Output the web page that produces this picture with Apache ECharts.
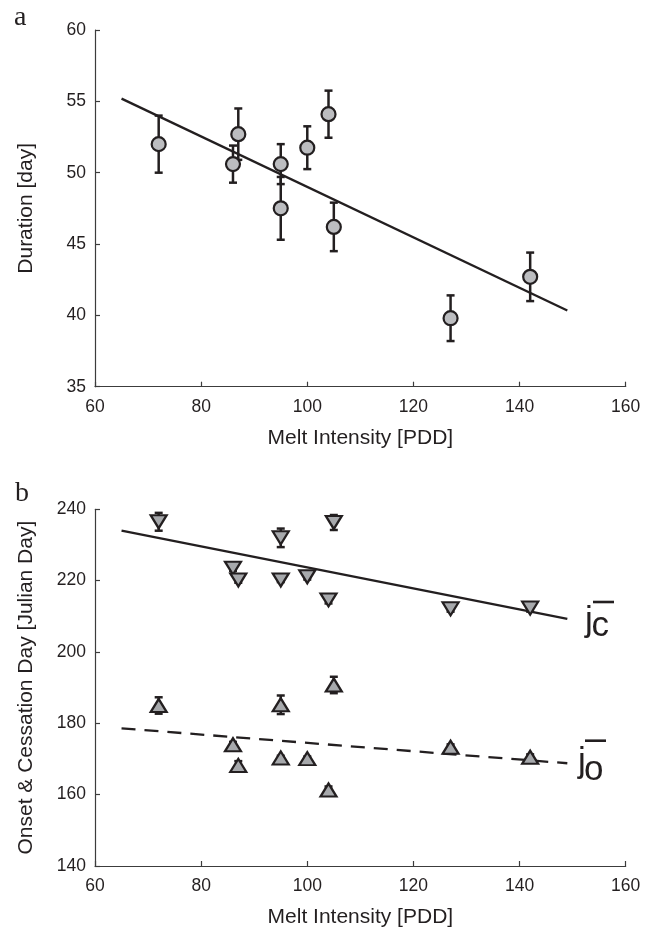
<!DOCTYPE html>
<html>
<head>
<meta charset="utf-8">
<script src="https://cdn.jsdelivr.net/npm/echarts@6/dist/echarts.min.js"></script>
<style>
html,body{margin:0;padding:0;background:#fff;}
#chart{width:657px;height:934px;}
</style>
</head>
<body>
<div id="chart"></div>
<script>
// ---- data ----
var meltIntensity = [72, 86, 87, 95, 95, 100, 104, 105, 127, 142];
var duration      = [52.0, 50.6, 52.7, 50.6, 47.5, 51.75, 54.1, 46.2, 39.8, 42.7];
var durationErr   = [2.0, 1.3, 1.8, 1.4, 2.2, 1.5, 1.65, 1.7, 1.6, 1.7];
var cessation     = [236.5, 223.5, 220.2, 220.2, 232.0, 221.1, 214.6, 236.3, 212.1, 212.3];
var cessationErr  = [2.5, 0.8, 0.8, 0.6, 2.6, 0.8, 1.0, 2.1, 0.8, 1.0];
var onset         = [185.0, 174.0, 168.2, 170.3, 185.2, 170.1, 161.3, 190.75, 173.3, 170.5];
var onsetErr      = [2.3, 0.8, 1.2, 0.6, 2.6, 0.6, 1.0, 2.3, 0.8, 0.8];

var fitX          = [65, 149];
var fitDuration   = [55.19, 40.34];
var fitCessation  = [234.0, 209.25];
var fitOnset      = [178.6, 168.8];

var xTicks = {min: 60, max: 160, interval: 20};
var yTicksA = {min: 35, max: 60, interval: 5};
var yTicksB = {min: 140, max: 240, interval: 20};

// ---- helpers ----
function pairs(xs, ys) { return xs.map(function (x, i) { return [x, ys[i]]; }); }
function errData(xs, ys, es) { return xs.map(function (x, i) { return [x, ys[i] - es[i], ys[i] + es[i]]; }); }

var INK = '#231f20';
var AXIS = '#3c3c3c';
var FONT = 'Liberation Sans, Arial, Helvetica, sans-serif';

function errRender(params, api) {
  var x = api.value(0), lo = api.value(1), hi = api.value(2);
  var p1 = api.coord([x, hi]), p2 = api.coord([x, lo]);
  var c = 4;
  var st = {stroke: INK, lineWidth: 2.5};
  return {type: 'group', children: [
    {type: 'line', shape: {x1: p1[0], y1: p1[1], x2: p2[0], y2: p2[1]}, style: st},
    {type: 'line', shape: {x1: p1[0] - c, y1: p1[1], x2: p1[0] + c, y2: p1[1]}, style: st},
    {type: 'line', shape: {x1: p2[0] - c, y1: p2[1], x2: p2[0] + c, y2: p2[1]}, style: st}
  ]};
}

function xAxis(idx) {
  return {
    type: 'value', gridIndex: idx, min: xTicks.min, max: xTicks.max, interval: xTicks.interval,
    name: 'Melt Intensity [PDD]', nameLocation: 'middle', nameGap: 41,
    nameTextStyle: {fontFamily: FONT, fontSize: 21, color: INK},
    axisLine: {show: true, onZero: false, lineStyle: {color: AXIS, width: 1.2}},
    axisTick: {show: true, inside: true, length: 5, lineStyle: {color: AXIS, width: 1.2}},
    axisLabel: {fontFamily: FONT, fontSize: 17.5, color: INK, margin: 11},
    splitLine: {show: false}
  };
}
function yAxis(idx, t, name) {
  return {
    type: 'value', gridIndex: idx, min: t.min, max: t.max, interval: t.interval,
    name: name, nameLocation: 'middle', nameGap: 58, nameRotate: 90,
    nameTextStyle: {fontFamily: FONT, fontSize: 21, color: INK},
    axisLine: {show: true, onZero: false, lineStyle: {color: AXIS, width: 1.2}},
    axisTick: {show: true, inside: true, length: 5, lineStyle: {color: AXIS, width: 1.2}},
    axisLabel: {fontFamily: FONT, fontSize: 17.5, color: INK, margin: 9},
    splitLine: {show: false}
  };
}

var chart = echarts.init(document.getElementById('chart'), null, {renderer: 'canvas'});
var option = {
  animation: false,
  backgroundColor: '#ffffff',
  grid: [
    {left: 95, top: 30, width: 530.7, height: 356.7, containLabel: false, outerBoundsMode: 'none'},
    {left: 95, top: 509.3, width: 530.7, height: 356.7, containLabel: false, outerBoundsMode: 'none'}
  ],
  xAxis: [xAxis(0), xAxis(1)],
  yAxis: [yAxis(0, yTicksA, 'Duration [day]'), yAxis(1, yTicksB, 'Onset & Cessation Day [Julian Day]')],
  series: [
    {type: 'line', xAxisIndex: 0, yAxisIndex: 0, data: pairs(fitX, fitDuration), symbol: 'none',
     lineStyle: {color: INK, width: 2.3}, z: 2},
    {type: 'custom', xAxisIndex: 0, yAxisIndex: 0, renderItem: errRender,
     encode: {x: 0, y: [1, 2]}, data: errData(meltIntensity, duration, durationErr), z: 3},
    {type: 'scatter', xAxisIndex: 0, yAxisIndex: 0, data: pairs(meltIntensity, duration),
     symbol: 'circle', symbolSize: 14,
     itemStyle: {color: '#bcbdc0', borderColor: INK, borderWidth: 2.2, opacity: 1}, z: 4},

    {type: 'line', xAxisIndex: 1, yAxisIndex: 1, data: pairs(fitX, fitCessation), symbol: 'none',
     lineStyle: {color: INK, width: 2.3}, z: 2},
    {type: 'line', xAxisIndex: 1, yAxisIndex: 1, data: pairs(fitX, fitOnset), symbol: 'none',
     lineStyle: {color: INK, width: 2.3, type: [14, 9]}, z: 2},
    {type: 'custom', xAxisIndex: 1, yAxisIndex: 1, renderItem: errRender,
     encode: {x: 0, y: [1, 2]}, data: errData(meltIntensity, cessation, cessationErr), z: 3},
    {type: 'custom', xAxisIndex: 1, yAxisIndex: 1, renderItem: errRender,
     encode: {x: 0, y: [1, 2]}, data: errData(meltIntensity, onset, onsetErr), z: 3},
    {type: 'scatter', xAxisIndex: 1, yAxisIndex: 1, data: pairs(meltIntensity, cessation),
     symbol: 'triangle', symbolRotate: 180, symbolSize: [16, 13],
     itemStyle: {color: '#a7a9ac', borderColor: INK, borderWidth: 2.2, opacity: 1}, z: 4},
    {type: 'scatter', xAxisIndex: 1, yAxisIndex: 1, data: pairs(meltIntensity, onset),
     symbol: 'triangle', symbolSize: [16, 13],
     itemStyle: {color: '#a7a9ac', borderColor: INK, borderWidth: 2.2, opacity: 1}, z: 4}
  ],
  graphic: [
    {type: 'text', left: 14, top: 4, style: {text: 'a', font: '28px "Liberation Serif", "Times New Roman", serif', fill: INK}},
    {type: 'text', left: 15, top: 480, style: {text: 'b', font: '28px "Liberation Serif", "Times New Roman", serif', fill: INK}},
    // j_c label
    {type: 'text', x: 585, y: 621.5, style: {text: 'j', font: '35px ' + FONT, fill: INK, verticalAlign: 'middle', align: 'left'}},
    {type: 'text', x: 591.5, y: 626.5, style: {text: 'c', font: '35px ' + FONT, fill: INK, verticalAlign: 'middle', align: 'left'}},
    {type: 'rect', shape: {x: 593, y: 600.7, width: 21, height: 2.6}, style: {fill: INK}},
    // j_o label
    {type: 'text', x: 578, y: 762, style: {text: 'j', font: '35px ' + FONT, fill: INK, verticalAlign: 'middle', align: 'left'}},
    {type: 'text', x: 584, y: 770, style: {text: 'o', font: '35px ' + FONT, fill: INK, verticalAlign: 'middle', align: 'left'}},
    {type: 'rect', shape: {x: 585, y: 739.4, width: 21, height: 2.6}, style: {fill: INK}}
  ]
};
chart.setOption(option);
</script>
</body>
</html>
